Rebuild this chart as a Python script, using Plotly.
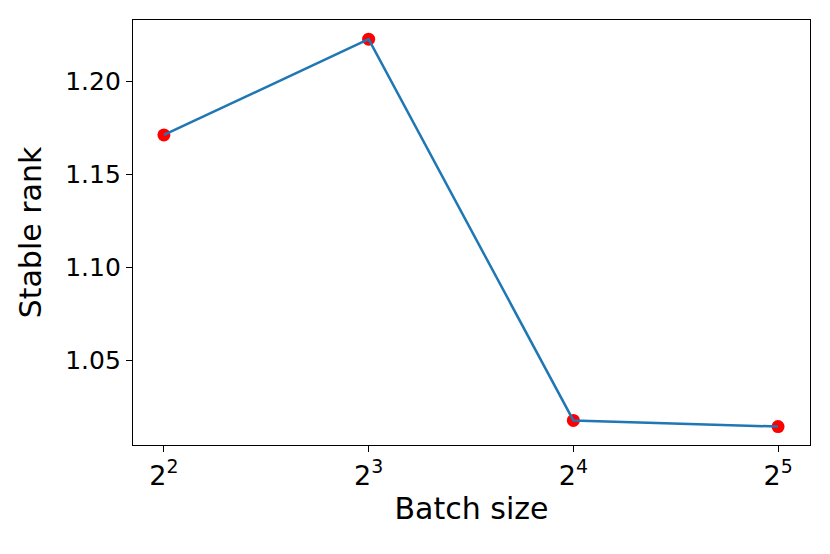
import numpy as np
import plotly.graph_objects as go

# data
batch_sizes = [4, 8, 16, 32]
stable_rank = [1.171, 1.2225, 1.0175, 1.0142]
x_tickvals = [4, 8, 16, 32]
x_ticktext = ["2<sup>2</sup>", "2<sup>3</sup>", "2<sup>4</sup>", "2<sup>5</sup>"]
y_tickvals = [1.05, 1.10, 1.15, 1.20]

FONT = "DejaVu Sans, sans-serif"

fig = go.Figure()
fig.add_trace(go.Scatter(
    x=batch_sizes, y=stable_rank, mode="markers",
    marker=dict(color="red", size=13, line=dict(width=0)),
    showlegend=False,
))
fig.add_trace(go.Scatter(
    x=batch_sizes, y=stable_rank, mode="lines",
    line=dict(color="#1f77b4", width=2.5),
    showlegend=False,
))

axis_common = dict(
    showline=True, linecolor="black", linewidth=1.3, mirror=True,
    showgrid=False, zeroline=False,
    ticks="outside", ticklen=6, tickwidth=1.3, tickcolor="black",
)

# the page body has an 8px margin, so the figure is sized/placed to compensate
fig.update_layout(
    width=822, height=546,
    paper_bgcolor="white", plot_bgcolor="white",
    margin=dict(l=125, r=20, t=12, b=109),
    font=dict(family=FONT, color="black"),
    xaxis=dict(
        type="log",
        range=[np.log10(2 ** 1.849), np.log10(2 ** 5.156)],
        tickvals=x_tickvals, ticktext=x_ticktext,
        tickfont=dict(family=FONT, size=27, color="black"),
        title=dict(text="Batch size", font=dict(family=FONT, size=30), standoff=8),
        **axis_common,
    ),
    yaxis=dict(
        range=[1.0043, 1.2328],
        tickvals=y_tickvals, tickformat=".2f",
        tickfont=dict(family=FONT, size=25, color="black"),
        title=dict(text="Stable rank", font=dict(family=FONT, size=30), standoff=14),
        **axis_common,
    ),
)

fig.write_html("out.html")
